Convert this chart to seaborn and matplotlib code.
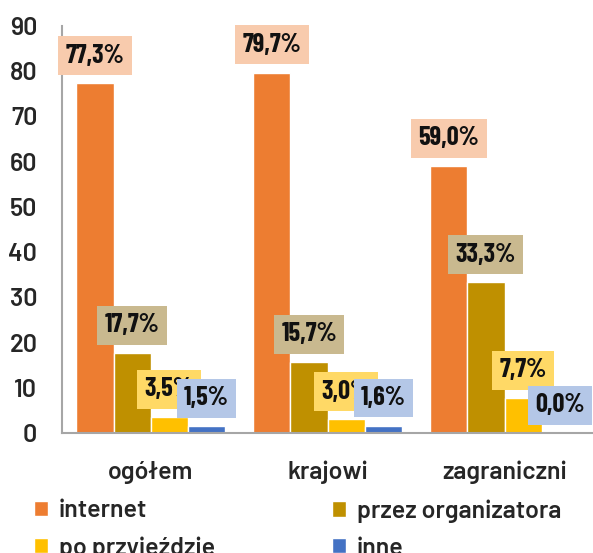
import pandas as pd
import seaborn as sns
import matplotlib.pyplot as plt
from matplotlib.patches import Patch

groups = ["ogółem", "krajowi", "zagraniczni"]
channels = ["internet", "przez organizatora", "po przyjeździe", "inne"]
internet = [77.3, 79.7, 59.0]
organizer = [17.7, 15.7, 33.3]
on_arrival = [3.5, 3.0, 7.7]
other = [1.5, 1.6, 0.0]

bar_colors = ["#ED7D31", "#BF9000", "#FFC000", "#4472C4"]
box_colors = ["#F8CBAD", "#C9B98F", "#FFD966", "#B4C7E7"]

rows = []
for ch, vals in zip(channels, [internet, organizer, on_arrival, other]):
    for g, v in zip(groups, vals):
        rows.append({"grupa": g, "kanal": ch, "val": v})
df = pd.DataFrame(rows)

sns.set_style("white")
plt.rcParams['font.family'] = ['Barlow', 'DejaVu Sans']

fig = plt.figure(figsize=(5.93, 5.53), dpi=100)
ax = fig.add_axes([0.105, 0.217, 0.895, 0.736])

sns.barplot(data=df, x="grupa", y="val", hue="kanal", order=groups,
            hue_order=channels, palette=bar_colors, saturation=1, width=0.84,
            edgecolor="white", linewidth=1, legend=False, ax=ax)

for cont, bc in zip(ax.containers, box_colors):
    for rect in cont:
        h = rect.get_height()
        ax.annotate(f"{h:.1f}%".replace(".", ","),
                    (rect.get_x() + rect.get_width() / 2, h),
                    xytext=(0, 20), textcoords="offset points",
                    ha="center", va="center", fontsize=19,
                    family=["Barlow Condensed", "DejaVu Sans"],
                    fontweight="bold", color="#111111",
                    bbox=dict(boxstyle="square,pad=0.28", fc=bc, ec="none"))

ax.set_ylim(0, 90)
ax.set_xlim(-0.5, 2.5)
ax.set_yticks(range(0, 91, 10))
ax.set_xlabel("")
ax.set_ylabel("")
ax.tick_params(axis="y", length=0, pad=18, labelsize=18)
ax.tick_params(axis="x", length=0, pad=20, labelsize=18)
for lab in ax.get_yticklabels() + ax.get_xticklabels():
    lab.set_fontweight("semibold")
for s in ["top", "right"]:
    ax.spines[s].set_visible(False)
for s in ["left", "bottom"]:
    ax.spines[s].set_color("#A6A6A6")
    ax.spines[s].set_linewidth(1.5)

handles = [Patch(facecolor=c, label=l) for c, l in zip(bar_colors, channels)]
legend_opts = dict(loc="upper left", frameon=False, handlelength=0.55,
                   handleheight=0.55, handletextpad=0.45, labelspacing=0.55,
                   borderpad=0, borderaxespad=0,
                   prop={"family": "Barlow", "size": 18, "weight": "semibold"})
fig.legend(handles=[handles[0], handles[2]], bbox_to_anchor=(0.057, 0.097), **legend_opts)
fig.legend(handles=[handles[1], handles[3]], bbox_to_anchor=(0.56, 0.097), **legend_opts)

fig.savefig("out.png", dpi=100)
